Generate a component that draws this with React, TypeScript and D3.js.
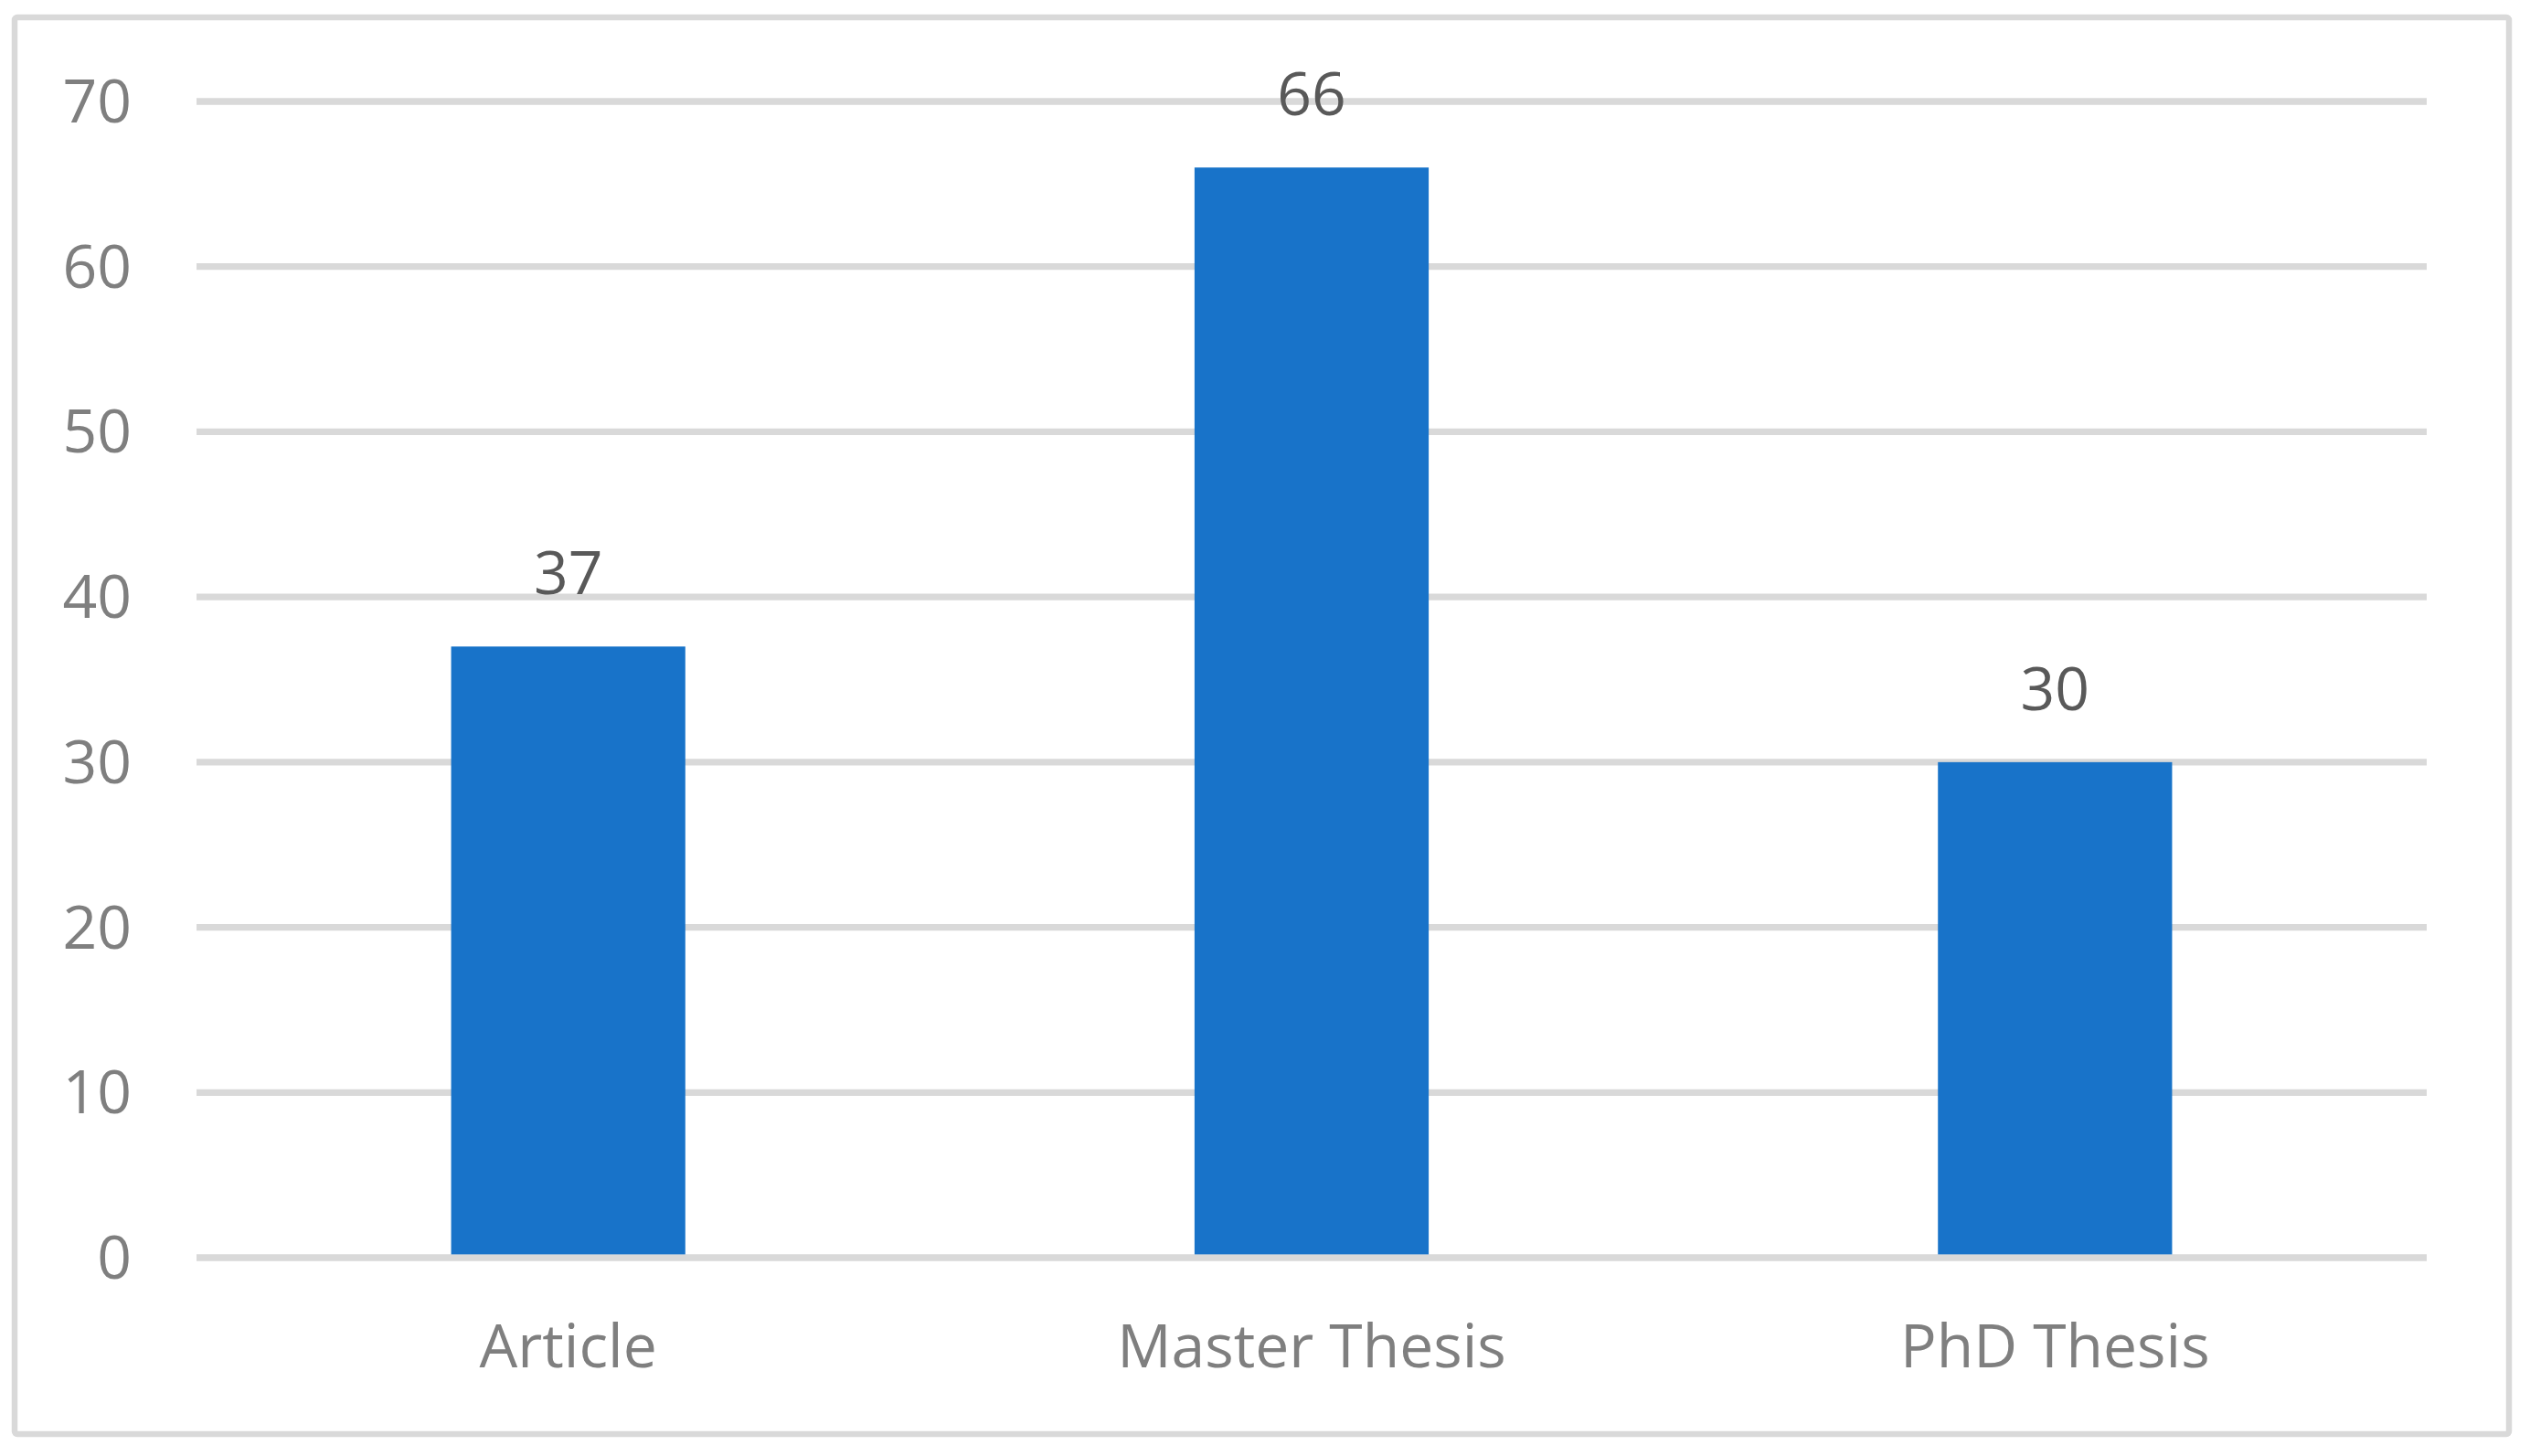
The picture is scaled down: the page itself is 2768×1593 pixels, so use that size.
import React from "react";
import { useRef, useEffect } from "react";
import { select, scaleBand, scaleLinear, range } from "d3";

const categories = ["Article", "Master Thesis", "PhD Thesis"];
const counts = [37, 66, 30];
const yTicks = [0, 10, 20, 30, 40, 50, 60, 70];

function App() {
  const chartRef = useRef(null);

  useEffect(() => {
    const svgWidth = 2768;
    const svgHeight = 1593;
    const margin = { top: 111, right: 113, bottom: 217, left: 215 };
    const width = svgWidth - margin.left - margin.right;
    const height = svgHeight - margin.top - margin.bottom;
    const font = "'Open Sans', 'Noto Sans', sans-serif";

    select(chartRef.current).selectAll("*").remove();

    const root = select(chartRef.current)
      .append("svg")
      .attr("width", svgWidth)
      .attr("height", svgHeight)
      .style("position", "absolute")
      .style("display", "block")
      .style("left", 0)
      .style("top", 0);

    root
      .append("rect")
      .attr("width", svgWidth)
      .attr("height", svgHeight)
      .attr("fill", "white");

    // chart frame
    root
      .append("rect")
      .attr("x", 16)
      .attr("y", 19)
      .attr("width", 2729)
      .attr("height", 1550)
      .attr("rx", 3)
      .attr("fill", "white")
      .attr("stroke", "#d9d9d9")
      .attr("stroke-width", 6.5);

    const svg = root
      .append("g")
      .attr("transform", `translate(${margin.left},${margin.top})`);

    const xScale = scaleBand()
      .domain(categories)
      .range([0, width])
      .paddingInner(0.685)
      .paddingOuter(0.3425);

    const yScale = scaleLinear().domain([0, 70]).range([height, 0]);

    // gridlines
    svg
      .selectAll(".grid")
      .data(yTicks)
      .enter()
      .append("line")
      .attr("x1", 0)
      .attr("x2", width)
      .attr("y1", (d) => yScale(d))
      .attr("y2", (d) => yScale(d))
      .attr("stroke", "#d9d9d9")
      .attr("stroke-width", 7.3);

    // tick labels
    svg
      .selectAll(".ytick")
      .data(yTicks)
      .enter()
      .append("text")
      .attr("x", -71)
      .attr("y", (d) => yScale(d) + 23)
      .attr("text-anchor", "end")
      .attr("font-family", font)
      .attr("font-size", 66)
      .attr("fill", "#7f7f7f")
      .text((d) => d);

    const idx = range(categories.length);

    svg
      .selectAll(".bar")
      .data(idx)
      .enter()
      .append("rect")
      .attr("x", (i) => xScale(categories[i]))
      .attr("y", (i) => yScale(counts[i]))
      .attr("width", xScale.bandwidth())
      .attr("height", (i) => yScale(0) - yScale(counts[i]) - 3.6)
      .attr("fill", "#1873c9");

    svg
      .selectAll(".value")
      .data(idx)
      .enter()
      .append("text")
      .attr("x", (i) => xScale(categories[i]) + xScale.bandwidth() / 2)
      .attr("y", (i) => yScale(counts[i]) - 57)
      .attr("text-anchor", "middle")
      .attr("font-family", font)
      .attr("font-size", 66)
      .attr("fill", "#595959")
      .text((i) => counts[i]);

    svg
      .selectAll(".cat")
      .data(categories)
      .enter()
      .append("text")
      .attr("x", (d) => xScale(d) + xScale.bandwidth() / 2)
      .attr("y", height + 120)
      .attr("text-anchor", "middle")
      .attr("font-family", font)
      .attr("font-size", 66)
      .attr("fill", "#7f7f7f")
      .text((d) => d);
  }, []);

  return <div ref={chartRef}></div>;
}

export default App;
